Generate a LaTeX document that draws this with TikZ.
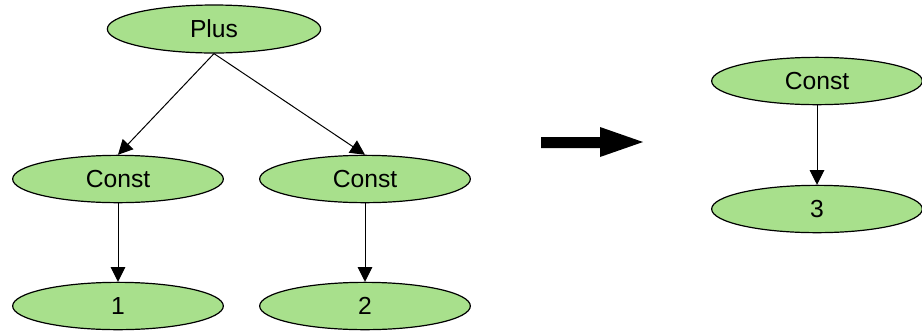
\documentclass[tikz,border=0pt]{standalone}
\usepackage{fontspec}
\setmainfont{Liberation Sans}
\usetikzlibrary{shapes.geometric,arrows.meta}
\definecolor{nodegreen}{RGB}{168,224,140}
\begin{document}
\begin{tikzpicture}[x=0.75pt,y=-0.75pt,
  enode/.style={ellipse,draw=black,line width=0.9pt,fill=nodegreen,inner sep=0pt,
    minimum width=158pt,minimum height=35.5pt,font=\fontsize{18.5}{20}\selectfont},
  link/.style={draw=black,line width=0.75pt,-{Triangle[length=11pt,width=11pt]}}]
\useasboundingbox (0,0) rectangle (922,330);
\node[enode,minimum width=160pt,minimum height=36pt] (plus) at (214,29) {Plus};
\node[enode] (c1) at (118,179) {Const};
\node[enode] (c2) at (365,179) {Const};
\node[enode] (n1) at (118,306) {1};
\node[enode] (n2) at (365,306) {2};
\node[enode] (c3) at (817,81) {Const};
\node[enode] (n3) at (817,209) {3};
\draw[link] (plus.south) -- (c1.north);
\draw[link] (plus.south) -- (c2.north);
\draw[link] (c1) -- (n1);
\draw[link] (c2) -- (n2);
\draw[link] (c3) -- (n3);
\fill[black] (541,137) -- (600,137) -- (600,127) -- (643,142) -- (600,157) -- (600,148) -- (541,148) -- cycle;
\end{tikzpicture}
\end{document}
